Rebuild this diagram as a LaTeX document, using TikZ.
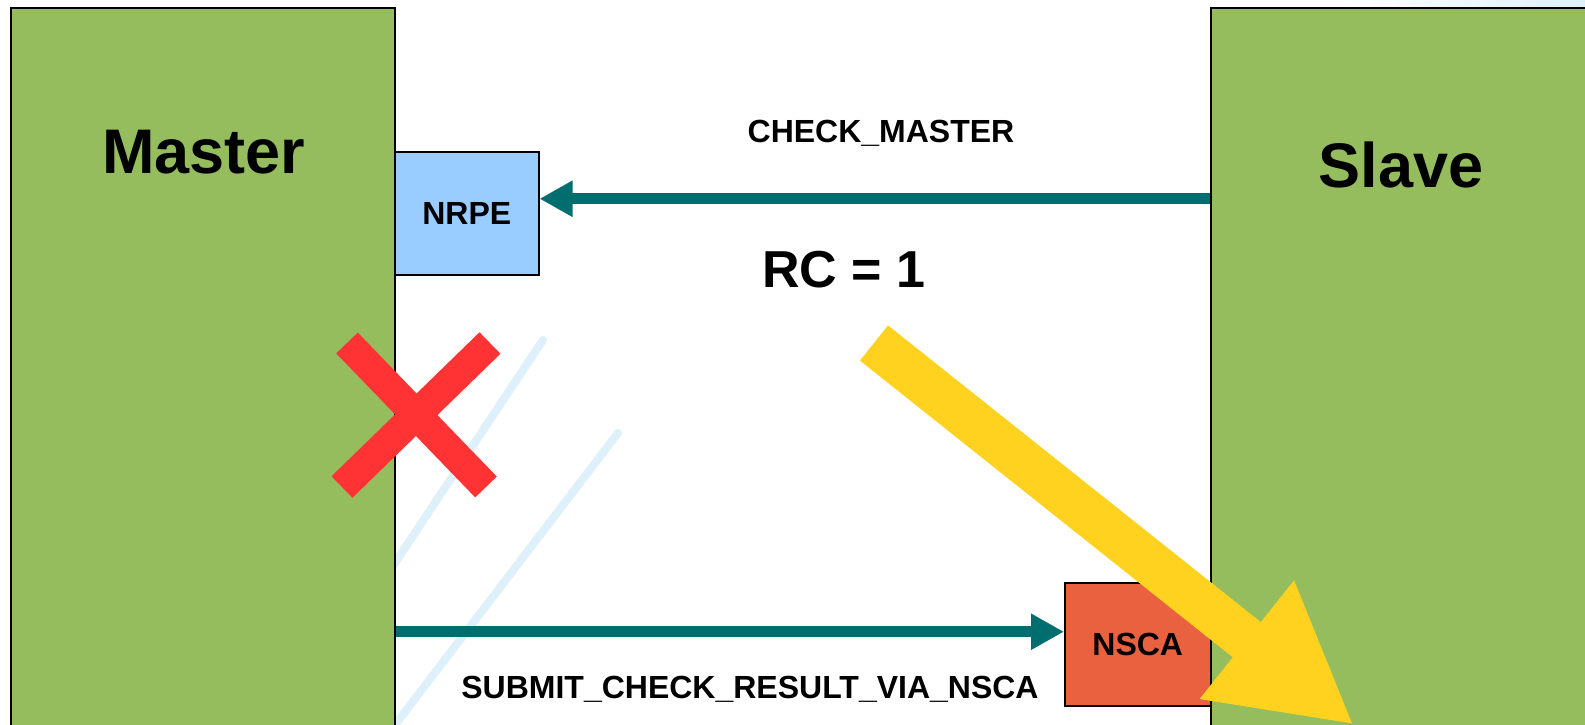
\documentclass[tikz,border=0pt]{standalone}
\usepackage{fontspec}
\setmainfont{Liberation Sans}
\usepackage{xcolor}
\usetikzlibrary{arrows.meta,positioning,calc}

\definecolor{tiergreen}{RGB}{149,189,94}
\definecolor{nrpeblue}{RGB}{153,204,255}
\definecolor{nscared}{RGB}{234,97,64}
\definecolor{flowteal}{RGB}{0,110,110}
\definecolor{crossred}{RGB}{255,51,51}
\definecolor{warnyellow}{RGB}{255,210,32}
\definecolor{streakblue}{RGB}{222,240,249}

\begin{document}
\begin{tikzpicture}[
    x=1pt, y=-1pt,
    tier/.style={rectangle, draw, line width=2pt, fill=tiergreen, anchor=north west, inner sep=0pt},
    plug/.style={rectangle, draw, line width=1.5pt, anchor=north west, inner sep=0pt, minimum height=123pt, font=\bfseries\fontsize{32}{38}\selectfont},
    title/.style={anchor=base, font=\bfseries\fontsize{63}{75}\selectfont},
    msg/.style={anchor=base, font=\bfseries\fontsize{32}{38}\selectfont},
    arrow/.style={line width=11pt, draw=flowteal, -{Triangle[length=33pt, width=34pt]}},
    cross/.style={line width=30pt, draw=crossred},
    streak/.style={line width=8pt, draw=streakblue, line cap=round}
]

\fill[white] (0,0) rectangle (1585,725);
\useasboundingbox (0,0) rectangle (1585,725);
\clip (0,0) rectangle (1585,725);

\draw[streak] (543,340) -- (385,578);
\draw[streak] (618,433) -- (385,738);
\shade[left color=white, right color=streakblue] (1340,0) rectangle (1585,7);

\node[tier, minimum width=384pt, minimum height=740pt] (master) at (10,7) {};
\node[tier, minimum width=400pt, minimum height=740pt] (slave) at (1210,7) {};
\node[title] (masterlbl) at (204,173) {Master};
\node[title] (slavelbl) at (1401,187) {Slave};

\node[plug, fill=nrpeblue, minimum width=144pt] (nrpe) at (394,151) {NRPE};
\node[plug, fill=nscared, minimum width=146pt] (nsca) at (1064,582) {NSCA};

\coordinate (chk) at ([yshift=14.5pt]nrpe.east);
\coordinate (sub) at ([yshift=12.5pt]nsca.west);

\draw[arrow] (slave.west |- chk) -- (chk);
\draw[arrow] (master.east |- sub) -- (sub);

\node[msg] (chklbl) at (881,142.5) {CHECK\_MASTER};
\node[title, font=\bfseries\fontsize{52}{62}\selectfont] (rclbl) at (844,287) {RC = 1};
\node[msg] (sublbl) at (750,698) {SUBMIT\_CHECK\_RESULT\_VIA\_NSCA};

\draw[cross] (347,343) -- (486,487);
\draw[cross] (490,343) -- (342,487);

\coordinate (ystart) at (874,343);
\coordinate (ytip) at (1354,725);
\draw[line width=45pt, draw=warnyellow, -{Triangle[length=137pt, width=141pt]}] (ystart) -- (ytip);

\end{tikzpicture}
\end{document}
